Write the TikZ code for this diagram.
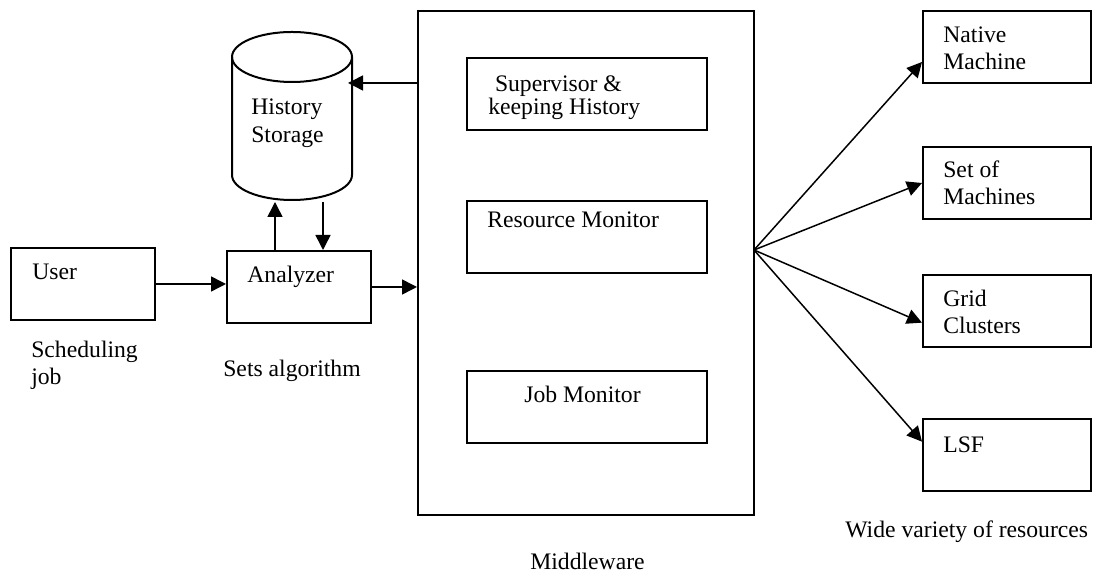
\documentclass[tikz,border=0pt]{standalone}
\usepackage{fontspec}
\setmainfont{Liberation Serif}
\usetikzlibrary{arrows.meta}

\begin{document}
\begin{tikzpicture}[x=0.6pt, y=-0.6pt,
    box/.style={draw, line width=1.2pt, inner sep=0pt},
    sidebox/.style={box, minimum width=86.4pt, minimum height=43.2pt},
    innerbox/.style={box, minimum width=144pt, minimum height=43.2pt},
    resbox/.style={box, minimum width=100.8pt, minimum height=43.2pt},
    txt/.style={inner sep=0pt, anchor=base west, align=left, font=\fontsize{14.2}{16.2}\selectfont},
    arr/.style={line width=0.9pt, -{Triangle[length=9pt, width=9pt]}}]
    \useasboundingbox (0,0) rectangle (1097,575);

    % left side
    \node[sidebox] (user) at (83,284) {};
    \node[sidebox] (analyzer) at (299,287) {};
    \node[txt] (usertxt) at (32,280) {User};
    \node[txt] (analyzertxt) at (247,283) {Analyzer};
    \node[txt] (schedtxt) at (31,385) {Scheduling\\job};
    \node[txt] (algotxt) at (223,377) {Sets algorithm};

    % history storage
    \draw[line width=1.2pt] (232,57) -- (232,175) arc[start angle=180, end angle=0, x radius=60, y radius=25] -- (352,57);
    \draw[line width=1.2pt] (292,57) ellipse [x radius=60, y radius=25];
    \node[txt, font=\fontsize{14.2}{16.8}\selectfont] (histtxt) at (251,143) {History\\Storage};
    \coordinate (up) at (275,202);
    \coordinate (down) at (323,202);
    \coordinate (histin) at (348,83);

    % middleware
    \node[box, minimum width=201.6pt, minimum height=302.4pt] (mw) at (586,263) {};
    \node[innerbox] (sup) at (587,94.5) {};
    \node[innerbox] (res) at (587,237) {};
    \node[innerbox] (job) at (587,407) {};
    \begin{scope}
      \clip (467,59) rectangle (707,120);
      \node[txt, font=\fontsize{14.2}{13.8}\selectfont] (suptxt) at (488,115) {\hspace{4pt}Supervisor \&\\keeping History};
    \end{scope}
    \node[txt] (restxt) at (487,228) {Resource Monitor};
    \node[txt] (jobtxt) at (524,403) {Job Monitor};
    \node[txt] (mwtxt) at (530,570) {Middleware};

    % resources
    \node[resbox] (native) at (1007,47) {};
    \node[resbox] (setm) at (1007,183) {};
    \node[resbox] (grid) at (1007,311) {};
    \node[resbox] (lsf) at (1007,455) {};
    \node[txt] (nativetxt) at (943,70) {Native\\Machine};
    \node[txt] (setmtxt) at (943,205) {Set of\\Machines};
    \node[txt] (gridtxt) at (943,334) {Grid\\Clusters};
    \node[txt] (lsftxt) at (943,453) {LSF};
    \node[txt] (widetxt) at (845,538) {Wide variety of resources};
    \coordinate (fan) at (754,250);

    % connectors
    \draw[arr] (user.east) -- (user.east -| analyzer.west);
    \draw[arr] (analyzer.east) -- (analyzer.east -| mw.west);
    \draw[arr] (analyzer.north -| up) -- (up);
    \draw[arr] (down) -- (analyzer.north -| down);
    \draw[arr] (mw.west |- histin) -- (histin);
    \draw[arr] (fan) -- ([yshift=-9pt]native.west);
    \draw[arr] (fan) -- (setm.west);
    \draw[arr] (fan) -- ([yshift=-7pt]grid.west);
    \draw[arr] (fan) -- ([yshift=8pt]lsf.west);
\end{tikzpicture}
\end{document}
